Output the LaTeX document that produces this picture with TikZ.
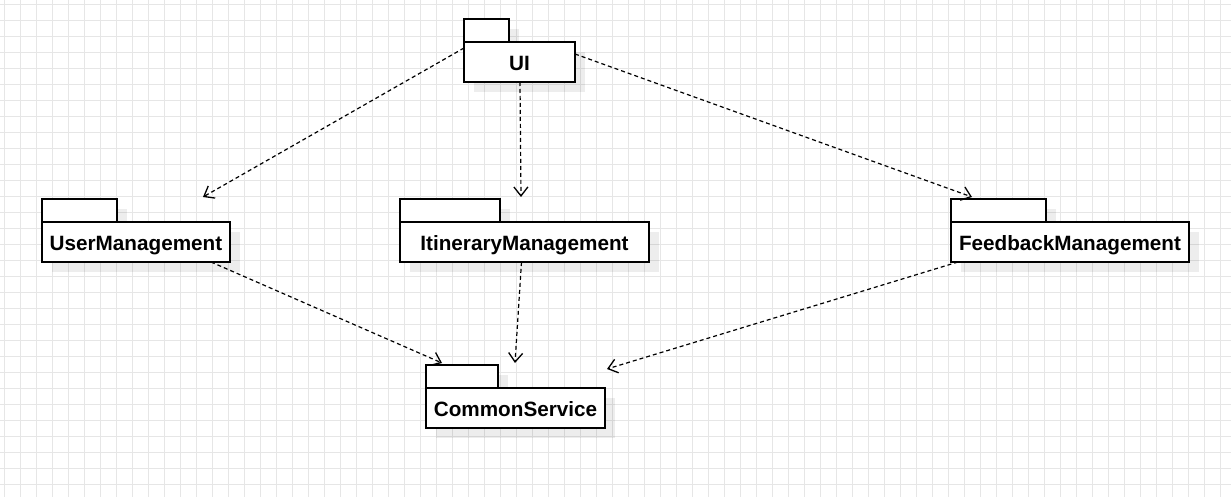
\documentclass[tikz,border=0pt]{standalone}
\usepackage{fontspec}
\setmainfont{Liberation Sans}
\usetikzlibrary{arrows.meta,shadows}

\tikzset{every picture/.style={line width=1.7pt}}
\tikzset{
  gridline/.style={draw={rgb,255:red,230;green,230;blue,230},line width=0.7pt},
  pkgshadow/.style={drop shadow={shadow xshift=10pt,shadow yshift=-10pt,fill=black,opacity=0.07}},
  pkgtab/.style={draw,fill=white,pkgshadow,minimum height=23pt,inner sep=0pt,outer sep=0pt,anchor=north west},
  pkgbody/.style={draw,fill=white,pkgshadow,minimum height=40pt,inner sep=0pt,outer sep=0pt,anchor=north west,
    text height=16.8pt,text depth=0pt,font=\bfseries\fontsize{20.7}{24}\selectfont},
  dependson/.style={line width=1.2pt,dash pattern=on 4pt off 3pt,
    -{Straight Barb[length=9pt,width=14pt,line width=1.3pt]}}
}

\begin{document}
\begin{tikzpicture}[x=1pt,y=1pt,yscale=-1,xscale=1]
\useasboundingbox (0,0) rectangle (1231,497);
\fill[white] (0,0) rectangle (1231,497);

%Background grid
\foreach \gx in {4,20,...,1231} \draw[gridline] (\gx,0) -- (\gx,497);
\foreach \gy in {4,20,...,497} \draw[gridline] (0,\gy) -- (1231,\gy);

%Package: UI
\node [pkgtab,minimum width=45pt] (uitab) at (464,19) {};
\node [pkgbody,minimum width=111pt] (ui) at (uitab.south west) {UI};
%Package: UserManagement
\node [pkgtab,minimum width=75pt] (usertab) at (42,199) {};
\node [pkgbody,minimum width=188pt] (user) at (usertab.south west) {UserManagement};
%Package: ItineraryManagement
\node [pkgtab,minimum width=100pt] (itintab) at (400,199) {};
\node [pkgbody,minimum width=249pt] (itin) at (itintab.south west) {ItineraryManagement};
%Package: FeedbackManagement
\node [pkgtab,minimum width=95pt] (feedtab) at (951,199) {};
\node [pkgbody,minimum width=238pt] (feed) at (feedtab.south west) {FeedbackManagement};
%Package: CommonService
\node [pkgtab,minimum width=72pt] (commontab) at (426,365) {};
\node [pkgbody,minimum width=179pt] (common) at (commontab.south west) {CommonService};

%Arrow ends
\coordinate (tipuser) at (203,197);
\coordinate (tipitin) at (521,197);
\coordinate (tipfeed) at (972,197);
\coordinate (tipcommonl) at (442,363);
\coordinate (tipcommonm) at (515,363);
\coordinate (tipcommonr) at (607,369);

%Dependencies from UI
\draw [dependson] ([yshift=-14pt]ui.west) -- (tipuser);
\draw [dependson] ([xshift=0.5pt]ui.south) -- (tipitin);
\draw [dependson] ([yshift=-8pt]ui.east) -- (tipfeed);
%Dependencies to CommonService
\draw [dependson] ([xshift=-19pt]user.south east) -- (tipcommonl);
\draw [dependson] ([xshift=-3pt]itin.south) -- (tipcommonm);
\draw [dependson] ([xshift=7pt]feed.south west) -- (tipcommonr);

\end{tikzpicture}
\end{document}
